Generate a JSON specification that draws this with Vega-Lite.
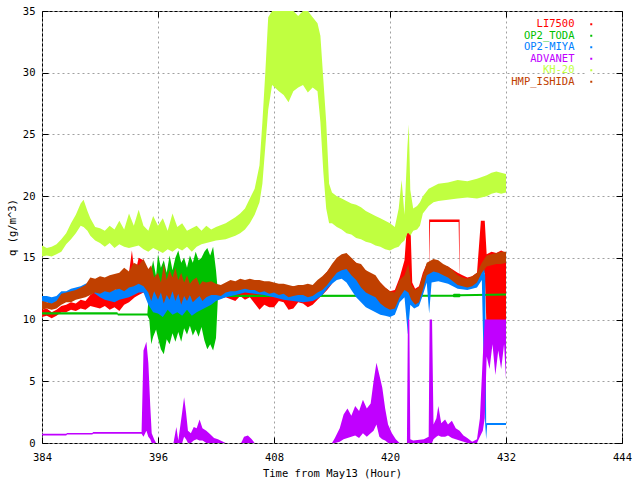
{
  "$schema": "https://vega.github.io/schema/vega-lite/v6.json",
  "autosize": "none",
  "padding": {"left": 42, "top": 11, "right": 18, "bottom": 37},
  "width": 580,
  "height": 432,
  "background": "white",
  "datasets": {
    "q": [
      {"s":"LI7500","t":384,"lo":10.2,"hi":10.8},{"s":"LI7500","t":384.5,"lo":10.3,"hi":10.9},{"s":"LI7500","t":385,"lo":10.1,"hi":10.6},{"s":"LI7500","t":385.5,"lo":10.3,"hi":10.8},
      {"s":"LI7500","t":386,"lo":10.6,"hi":11.1},{"s":"LI7500","t":386.5,"lo":10.6,"hi":11.2},{"s":"LI7500","t":387,"lo":10.8,"hi":11.4},{"s":"LI7500","t":387.5,"lo":10.7,"hi":11.3},
      {"s":"LI7500","t":388,"lo":10.9,"hi":11.6},{"s":"LI7500","t":388.5,"lo":10.8,"hi":11.5},{"s":"LI7500","t":389,"lo":11.1,"hi":12.0},{"s":"LI7500","t":389.5,"lo":11.0,"hi":12.3},
      {"s":"LI7500","t":390,"lo":10.9,"hi":12.0},{"s":"LI7500","t":390.5,"lo":11.1,"hi":12.3},{"s":"LI7500","t":391,"lo":10.8,"hi":12.2},{"s":"LI7500","t":391.5,"lo":11.0,"hi":12.2},
      {"s":"LI7500","t":392,"lo":10.7,"hi":12.1},{"s":"LI7500","t":392.5,"lo":11.2,"hi":12.6},{"s":"LI7500","t":393,"lo":11.4,"hi":13.8},{"s":"LI7500","t":393.3,"lo":11.6,"hi":15.6},
      {"s":"LI7500","t":393.6,"lo":11.8,"hi":13.6},{"s":"LI7500","t":394,"lo":12.0,"hi":15.0},{"s":"LI7500","t":394.5,"lo":12.2,"hi":14.8},{"s":"LI7500","t":395,"lo":11.8,"hi":13.5},
      {"s":"LI7500","t":395.5,"lo":10.8,"hi":13.6},{"s":"LI7500","t":396,"lo":11.0,"hi":13.2},{"s":"LI7500","t":396.5,"lo":10.6,"hi":13.0},{"s":"LI7500","t":397,"lo":11.0,"hi":13.4},
      {"s":"LI7500","t":397.5,"lo":10.7,"hi":12.8},{"s":"LI7500","t":398,"lo":11.1,"hi":13.1},{"s":"LI7500","t":398.5,"lo":10.6,"hi":12.6},{"s":"LI7500","t":399,"lo":11.0,"hi":13.0},
      {"s":"LI7500","t":399.5,"lo":10.5,"hi":12.4},{"s":"LI7500","t":400,"lo":10.9,"hi":12.8},{"s":"LI7500","t":400.5,"lo":11.0,"hi":12.5},{"s":"LI7500","t":401,"lo":11.2,"hi":12.6},
      {"s":"LI7500","t":401.5,"lo":11.4,"hi":12.6},{"s":"LI7500","t":402,"lo":11.6,"hi":12.4},{"s":"LI7500","t":403,"lo":11.8,"hi":12.6},{"s":"LI7500","t":404,"lo":11.5,"hi":12.8},
      {"s":"LI7500","t":404.5,"lo":11.9,"hi":12.9},{"s":"LI7500","t":405,"lo":11.6,"hi":12.9},{"s":"LI7500","t":405.5,"lo":11.8,"hi":13.0},{"s":"LI7500","t":406,"lo":11.3,"hi":13.0},
      {"s":"LI7500","t":406.5,"lo":10.8,"hi":12.9},{"s":"LI7500","t":407,"lo":11.2,"hi":13.0},{"s":"LI7500","t":407.5,"lo":11.0,"hi":12.8},{"s":"LI7500","t":408,"lo":11.0,"hi":12.9},
      {"s":"LI7500","t":408.5,"lo":11.5,"hi":12.8},{"s":"LI7500","t":409,"lo":11.4,"hi":12.8},{"s":"LI7500","t":409.5,"lo":10.8,"hi":12.6},{"s":"LI7500","t":410,"lo":10.9,"hi":12.7},
      {"s":"LI7500","t":410.5,"lo":11.4,"hi":12.7},{"s":"LI7500","t":411,"lo":11.3,"hi":12.8},{"s":"LI7500","t":411.5,"lo":11.0,"hi":12.7},{"s":"LI7500","t":412,"lo":11.2,"hi":12.6},
      {"s":"LI7500","t":412.5,"lo":11.6,"hi":12.9},{"s":"LI7500","t":413,"lo":12.0,"hi":13.4},{"s":"LI7500","t":413.5,"lo":12.4,"hi":13.9},{"s":"LI7500","t":414,"lo":12.9,"hi":14.4},
      {"s":"LI7500","t":414.5,"lo":13.4,"hi":14.9},{"s":"LI7500","t":415,"lo":13.6,"hi":15.2},{"s":"LI7500","t":415.5,"lo":13.5,"hi":15.3},{"s":"LI7500","t":416,"lo":12.8,"hi":14.9},
      {"s":"LI7500","t":416.5,"lo":12.3,"hi":14.6},{"s":"LI7500","t":417,"lo":12.0,"hi":14.2},{"s":"LI7500","t":417.5,"lo":11.6,"hi":14.0},{"s":"LI7500","t":418,"lo":11.3,"hi":13.6},
      {"s":"LI7500","t":418.5,"lo":11.0,"hi":13.4},{"s":"LI7500","t":419,"lo":10.8,"hi":13.0},{"s":"LI7500","t":419.5,"lo":10.6,"hi":12.6},{"s":"LI7500","t":420,"lo":10.5,"hi":12.3},
      {"s":"LI7500","t":420.5,"lo":10.8,"hi":12.4},{"s":"LI7500","t":421,"lo":11.8,"hi":13.4},{"s":"LI7500","t":421.5,"lo":12.2,"hi":14.8},{"s":"LI7500","t":421.8,"lo":12.5,"hi":18},
      {"s":"LI7500","t":422.1,"lo":12.0,"hi":18},{"s":"LI7500","t":422.3,"lo":11.8,"hi":13.0},{"s":"LI7500","t":422.6,"lo":11.1,"hi":12.5},{"s":"LI7500","t":423,"lo":11.3,"hi":12.7},
      {"s":"LI7500","t":423.4,"lo":12.2,"hi":13.8},{"s":"LI7500","t":423.8,"lo":13.4,"hi":14.5},{"s":"LI7500","t":425,"lo":13.6,"hi":14.5},{"s":"LI7500","t":426,"lo":13.4,"hi":14.3},
      {"s":"LI7500","t":427,"lo":12.8,"hi":13.8},{"s":"LI7500","t":427.5,"lo":12.5,"hi":13.6},{"s":"LI7500","t":428,"lo":12.6,"hi":13.4},{"s":"LI7500","t":428.5,"lo":12.7,"hi":13.5},
      {"s":"LI7500","t":429,"lo":12.9,"hi":13.8},{"s":"LI7500","t":429.4,"lo":13.5,"hi":18},{"s":"LI7500","t":429.8,"lo":13.8,"hi":18},{"s":"LI7500","t":430,"lo":9,"hi":15.3},
      {"s":"LI7500","t":430.5,"lo":9.2,"hi":15.5},{"s":"LI7500","t":431,"lo":9,"hi":15.4},{"s":"LI7500","t":431.5,"lo":9.1,"hi":15.6},{"s":"LI7500","t":432,"lo":9,"hi":15.4},
      {"s":"LI7500","g":"box","t":424.05,"lo":13.8,"hi":18.1},{"s":"LI7500","g":"box","t":424.15,"lo":17.9,"hi":18.1},{"s":"LI7500","g":"box","t":427.1,"lo":17.9,"hi":18.1},{"s":"LI7500","g":"box","t":427.2,"lo":13.0,"hi":18.1},

      {"s":"OP2_TODA","t":384,"lo":10.42,"hi":10.6},{"s":"OP2_TODA","t":391.8,"lo":10.42,"hi":10.6},{"s":"OP2_TODA","t":391.85,"lo":10.32,"hi":10.5},{"s":"OP2_TODA","t":394.9,"lo":10.32,"hi":10.5},
      {"s":"OP2_TODA","t":395.1,"lo":10.0,"hi":12.5},{"s":"OP2_TODA","t":395.3,"lo":8.0,"hi":14.0},{"s":"OP2_TODA","t":395.5,"lo":8.6,"hi":14.8},{"s":"OP2_TODA","t":395.8,"lo":9.2,"hi":13.5},
      {"s":"OP2_TODA","t":396.0,"lo":8.5,"hi":15.3},{"s":"OP2_TODA","t":396.3,"lo":7.6,"hi":14.2},{"s":"OP2_TODA","t":396.6,"lo":7.2,"hi":14.8},{"s":"OP2_TODA","t":396.9,"lo":8.4,"hi":13.8},
      {"s":"OP2_TODA","t":397.2,"lo":8.0,"hi":15.2},{"s":"OP2_TODA","t":397.5,"lo":8.9,"hi":14.0},{"s":"OP2_TODA","t":397.8,"lo":8.2,"hi":15.0},{"s":"OP2_TODA","t":398.1,"lo":9.0,"hi":15.6},
      {"s":"OP2_TODA","t":398.4,"lo":8.2,"hi":14.6},{"s":"OP2_TODA","t":398.7,"lo":9.3,"hi":15.0},{"s":"OP2_TODA","t":399.0,"lo":8.8,"hi":14.2},{"s":"OP2_TODA","t":399.3,"lo":9.5,"hi":15.2},
      {"s":"OP2_TODA","t":399.6,"lo":8.7,"hi":14.6},{"s":"OP2_TODA","t":399.9,"lo":9.2,"hi":15.5},{"s":"OP2_TODA","t":400.2,"lo":8.6,"hi":14.8},{"s":"OP2_TODA","t":400.5,"lo":9.4,"hi":15.0},
      {"s":"OP2_TODA","t":400.8,"lo":8.3,"hi":15.5},{"s":"OP2_TODA","t":401.1,"lo":7.6,"hi":15.8},{"s":"OP2_TODA","t":401.4,"lo":8.0,"hi":15.2},{"s":"OP2_TODA","t":401.7,"lo":7.5,"hi":15.9},
      {"s":"OP2_TODA","t":402.0,"lo":8.5,"hi":14.0},{"s":"OP2_TODA","t":402.2,"lo":11.8,"hi":12.2},{"s":"OP2_TODA","t":402.4,"lo":11.82,"hi":12.0},{"s":"OP2_TODA","t":426.5,"lo":11.85,"hi":12.02},
      {"s":"OP2_TODA","t":426.6,"lo":11.8,"hi":12.1},{"s":"OP2_TODA","t":427.2,"lo":11.8,"hi":12.1},{"s":"OP2_TODA","t":427.3,"lo":11.88,"hi":12.05},{"s":"OP2_TODA","t":432,"lo":11.95,"hi":12.12},

      {"s":"OP2-MIYA","t":384,"lo":11.3,"hi":11.9},{"s":"OP2-MIYA","t":384.5,"lo":11.4,"hi":11.9},{"s":"OP2-MIYA","t":385,"lo":11.2,"hi":11.8},{"s":"OP2-MIYA","t":385.5,"lo":11.3,"hi":11.9},
      {"s":"OP2-MIYA","t":386,"lo":11.7,"hi":12.3},{"s":"OP2-MIYA","t":386.5,"lo":11.8,"hi":12.3},{"s":"OP2-MIYA","t":387,"lo":11.9,"hi":12.5},{"s":"OP2-MIYA","t":387.5,"lo":11.9,"hi":12.6},
      {"s":"OP2-MIYA","t":388,"lo":12.1,"hi":12.7},{"s":"OP2-MIYA","t":388.5,"lo":12.1,"hi":12.9},{"s":"OP2-MIYA","t":389,"lo":12.3,"hi":13.0},{"s":"OP2-MIYA","t":389.5,"lo":12.1,"hi":13.0},
      {"s":"OP2-MIYA","t":390,"lo":11.8,"hi":12.8},{"s":"OP2-MIYA","t":390.5,"lo":11.6,"hi":12.6},{"s":"OP2-MIYA","t":391,"lo":11.5,"hi":12.5},{"s":"OP2-MIYA","t":391.5,"lo":11.4,"hi":12.4},
      {"s":"OP2-MIYA","t":392,"lo":11.6,"hi":12.6},{"s":"OP2-MIYA","t":392.5,"lo":11.7,"hi":12.8},{"s":"OP2-MIYA","t":393,"lo":11.8,"hi":13.0},{"s":"OP2-MIYA","t":393.5,"lo":12.0,"hi":13.3},
      {"s":"OP2-MIYA","t":394,"lo":12.2,"hi":13.6},{"s":"OP2-MIYA","t":394.5,"lo":12.2,"hi":13.4},{"s":"OP2-MIYA","t":395,"lo":11.2,"hi":12.8},{"s":"OP2-MIYA","t":395.5,"lo":10.6,"hi":12.6},
      {"s":"OP2-MIYA","t":396,"lo":10.5,"hi":13.2},{"s":"OP2-MIYA","t":396.5,"lo":10.2,"hi":12.5},{"s":"OP2-MIYA","t":397,"lo":10.8,"hi":12.8},{"s":"OP2-MIYA","t":397.5,"lo":10.4,"hi":12.3},
      {"s":"OP2-MIYA","t":398,"lo":10.6,"hi":12.6},{"s":"OP2-MIYA","t":398.5,"lo":10.3,"hi":12.0},{"s":"OP2-MIYA","t":399,"lo":10.8,"hi":12.2},{"s":"OP2-MIYA","t":399.5,"lo":10.3,"hi":11.8},
      {"s":"OP2-MIYA","t":400,"lo":10.6,"hi":12.3},{"s":"OP2-MIYA","t":400.5,"lo":10.8,"hi":12.0},{"s":"OP2-MIYA","t":401,"lo":11.0,"hi":12.3},{"s":"OP2-MIYA","t":401.5,"lo":11.2,"hi":12.5},
      {"s":"OP2-MIYA","t":402,"lo":11.5,"hi":12.5},{"s":"OP2-MIYA","t":403,"lo":11.8,"hi":12.8},{"s":"OP2-MIYA","t":404,"lo":12.0,"hi":13.0},{"s":"OP2-MIYA","t":405,"lo":12.2,"hi":13.1},
      {"s":"OP2-MIYA","t":406,"lo":12.1,"hi":13.0},{"s":"OP2-MIYA","t":407,"lo":12.0,"hi":13.0},{"s":"OP2-MIYA","t":408,"lo":11.8,"hi":12.9},{"s":"OP2-MIYA","t":409,"lo":11.6,"hi":12.6},
      {"s":"OP2-MIYA","t":410,"lo":11.5,"hi":12.6},{"s":"OP2-MIYA","t":411,"lo":11.4,"hi":12.5},{"s":"OP2-MIYA","t":412,"lo":11.5,"hi":12.6},{"s":"OP2-MIYA","t":412.5,"lo":11.7,"hi":13.0},
      {"s":"OP2-MIYA","t":413,"lo":12.0,"hi":13.2},{"s":"OP2-MIYA","t":413.5,"lo":12.5,"hi":13.6},{"s":"OP2-MIYA","t":414,"lo":12.9,"hi":13.9},{"s":"OP2-MIYA","t":414.5,"lo":13.2,"hi":14.2},
      {"s":"OP2-MIYA","t":415,"lo":13.3,"hi":14.3},{"s":"OP2-MIYA","t":415.5,"lo":13.0,"hi":14.2},{"s":"OP2-MIYA","t":416,"lo":12.4,"hi":13.8},{"s":"OP2-MIYA","t":416.5,"lo":11.8,"hi":13.4},
      {"s":"OP2-MIYA","t":417,"lo":11.4,"hi":13.0},{"s":"OP2-MIYA","t":417.5,"lo":11.0,"hi":12.6},{"s":"OP2-MIYA","t":418,"lo":10.8,"hi":12.4},{"s":"OP2-MIYA","t":418.5,"lo":10.6,"hi":12.2},
      {"s":"OP2-MIYA","t":419,"lo":10.4,"hi":11.9},{"s":"OP2-MIYA","t":419.5,"lo":10.3,"hi":11.6},{"s":"OP2-MIYA","t":420,"lo":10.2,"hi":11.5},{"s":"OP2-MIYA","t":420.5,"lo":10.4,"hi":11.8},
      {"s":"OP2-MIYA","t":421,"lo":11.4,"hi":12.8},{"s":"OP2-MIYA","t":421.5,"lo":11.8,"hi":13.2},{"s":"OP2-MIYA","t":421.85,"lo":8.8,"hi":12.8},{"s":"OP2-MIYA","t":422.1,"lo":11.2,"hi":12.4},
      {"s":"OP2-MIYA","t":422.5,"lo":10.9,"hi":12.0},{"s":"OP2-MIYA","t":423,"lo":11.1,"hi":12.2},{"s":"OP2-MIYA","t":423.4,"lo":12.0,"hi":13.2},{"s":"OP2-MIYA","t":423.8,"lo":13.0,"hi":13.9},
      {"s":"OP2-MIYA","t":424.05,"lo":10.5,"hi":13.9},{"s":"OP2-MIYA","t":424.3,"lo":13.0,"hi":14.0},{"s":"OP2-MIYA","t":425,"lo":13.1,"hi":14.1},{"s":"OP2-MIYA","t":426,"lo":12.9,"hi":13.9},
      {"s":"OP2-MIYA","t":427,"lo":12.5,"hi":13.4},{"s":"OP2-MIYA","t":428,"lo":12.4,"hi":13.2},{"s":"OP2-MIYA","t":429,"lo":12.6,"hi":13.5},{"s":"OP2-MIYA","t":429.5,"lo":13.2,"hi":14.2},
      {"s":"OP2-MIYA","t":429.7,"lo":6,"hi":14.3},{"s":"OP2-MIYA","t":429.85,"lo":1.5,"hi":13.5},{"s":"OP2-MIYA","t":429.95,"lo":0.3,"hi":1.6},{"s":"OP2-MIYA","t":430.05,"lo":1.45,"hi":1.62},
      {"s":"OP2-MIYA","t":432,"lo":1.45,"hi":1.62},

      {"s":"ADVANET","t":384,"lo":0.6,"hi":0.75},{"s":"ADVANET","t":386.5,"lo":0.6,"hi":0.75},{"s":"ADVANET","t":386.6,"lo":0.68,"hi":0.82},{"s":"ADVANET","t":389.2,"lo":0.68,"hi":0.82},
      {"s":"ADVANET","t":389.3,"lo":0.75,"hi":0.9},{"s":"ADVANET","t":394.3,"lo":0.75,"hi":0.9},{"s":"ADVANET","t":394.5,"lo":0.5,"hi":7.5},{"s":"ADVANET","t":394.8,"lo":1,"hi":8.2},
      {"s":"ADVANET","t":395,"lo":0.5,"hi":6.5},{"s":"ADVANET","t":395.2,"lo":0.3,"hi":3},{"s":"ADVANET","t":395.35,"lo":0,"hi":0.8},{"s":"ADVANET","t":395.6,"lo":0,"hi":0.3},
      {"s":"ADVANET","t":395.8,"lo":0,"hi":0},{"s":"ADVANET","t":397.6,"lo":0,"hi":0},{"s":"ADVANET","t":397.9,"lo":0,"hi":1.3},{"s":"ADVANET","t":398.1,"lo":0,"hi":0.2},
      {"s":"ADVANET","t":398.5,"lo":0,"hi":2.5},{"s":"ADVANET","t":398.7,"lo":0.5,"hi":3.7},{"s":"ADVANET","t":398.9,"lo":0.3,"hi":2.5},{"s":"ADVANET","t":399.1,"lo":0,"hi":1.0},
      {"s":"ADVANET","t":399.4,"lo":0,"hi":0.8},{"s":"ADVANET","t":399.7,"lo":0.2,"hi":1.3},{"s":"ADVANET","t":400,"lo":0.3,"hi":1.2},{"s":"ADVANET","t":400.3,"lo":0.2,"hi":1.9},
      {"s":"ADVANET","t":400.6,"lo":0.2,"hi":1.2},{"s":"ADVANET","t":401,"lo":0,"hi":1.0},{"s":"ADVANET","t":401.4,"lo":0,"hi":0.7},{"s":"ADVANET","t":401.8,"lo":0,"hi":0.4},
      {"s":"ADVANET","t":402.2,"lo":0,"hi":0.3},{"s":"ADVANET","t":403,"lo":0,"hi":0},{"s":"ADVANET","t":404.6,"lo":0,"hi":0},{"s":"ADVANET","t":404.9,"lo":0,"hi":0.5},
      {"s":"ADVANET","t":405.3,"lo":0,"hi":0.6},{"s":"ADVANET","t":405.7,"lo":0,"hi":0.3},{"s":"ADVANET","t":406,"lo":0,"hi":0},{"s":"ADVANET","t":414,"lo":0,"hi":0},
      {"s":"ADVANET","t":414.3,"lo":0,"hi":0.4},{"s":"ADVANET","t":414.8,"lo":0.1,"hi":1.2},{"s":"ADVANET","t":415.2,"lo":0.3,"hi":2.3},{"s":"ADVANET","t":415.6,"lo":0.4,"hi":2.8},
      {"s":"ADVANET","t":416,"lo":0.5,"hi":2.2},{"s":"ADVANET","t":416.4,"lo":0.6,"hi":3.0},{"s":"ADVANET","t":416.8,"lo":0.4,"hi":2.6},{"s":"ADVANET","t":417.2,"lo":0.8,"hi":3.5},
      {"s":"ADVANET","t":417.6,"lo":0.5,"hi":2.8},{"s":"ADVANET","t":418,"lo":0.8,"hi":3.2},{"s":"ADVANET","t":418.3,"lo":1.0,"hi":5.0},{"s":"ADVANET","t":418.6,"lo":1.5,"hi":6.5},
      {"s":"ADVANET","t":418.9,"lo":0.5,"hi":5.5},{"s":"ADVANET","t":419.2,"lo":0.3,"hi":4.5},{"s":"ADVANET","t":419.5,"lo":0.2,"hi":2.8},{"s":"ADVANET","t":419.8,"lo":0,"hi":1.5},
      {"s":"ADVANET","t":420.2,"lo":0,"hi":0.8},{"s":"ADVANET","t":420.6,"lo":0,"hi":0.3},{"s":"ADVANET","t":421,"lo":0,"hi":0},{"s":"ADVANET","t":421.75,"lo":0,"hi":0},
      {"s":"ADVANET","t":421.85,"lo":0,"hi":10},{"s":"ADVANET","t":422.0,"lo":0,"hi":10},{"s":"ADVANET","t":422.1,"lo":0,"hi":0.3},{"s":"ADVANET","t":422.4,"lo":0,"hi":0.2},
      {"s":"ADVANET","t":423.5,"lo":0,"hi":0.3},{"s":"ADVANET","t":424.0,"lo":0,"hi":0.5},{"s":"ADVANET","t":424.1,"lo":0,"hi":10},{"s":"ADVANET","t":424.35,"lo":0,"hi":10},
      {"s":"ADVANET","t":424.5,"lo":0.3,"hi":1.5},{"s":"ADVANET","t":424.8,"lo":0.5,"hi":2.0},{"s":"ADVANET","t":425,"lo":0.6,"hi":3.0},{"s":"ADVANET","t":425.3,"lo":0.5,"hi":1.6},
      {"s":"ADVANET","t":425.7,"lo":0.5,"hi":1.9},{"s":"ADVANET","t":426,"lo":0.6,"hi":1.5},{"s":"ADVANET","t":426.4,"lo":0.4,"hi":1.8},{"s":"ADVANET","t":426.8,"lo":0.3,"hi":1.2},
      {"s":"ADVANET","t":427.2,"lo":0.2,"hi":1.0},{"s":"ADVANET","t":427.6,"lo":0.1,"hi":0.6},{"s":"ADVANET","t":428,"lo":0,"hi":0.4},{"s":"ADVANET","t":428.5,"lo":0,"hi":0.1},
      {"s":"ADVANET","t":429,"lo":0,"hi":0.3},{"s":"ADVANET","t":429.3,"lo":0.5,"hi":2},{"s":"ADVANET","t":429.6,"lo":1,"hi":7},{"s":"ADVANET","t":429.8,"lo":2,"hi":10},
      {"s":"ADVANET","t":430,"lo":7,"hi":10},{"s":"ADVANET","t":430.3,"lo":6,"hi":10},{"s":"ADVANET","t":430.6,"lo":8,"hi":10},{"s":"ADVANET","t":430.9,"lo":5.5,"hi":10},
      {"s":"ADVANET","t":431.2,"lo":7.5,"hi":10},{"s":"ADVANET","t":431.5,"lo":6,"hi":10},{"s":"ADVANET","t":431.8,"lo":8,"hi":10},{"s":"ADVANET","t":432,"lo":5.2,"hi":10},

      {"s":"KH-20","t":384,"lo":15.1,"hi":16.0},{"s":"KH-20","t":384.5,"lo":15.2,"hi":15.8},{"s":"KH-20","t":385,"lo":15.1,"hi":15.9},{"s":"KH-20","t":385.5,"lo":15.3,"hi":16.1},
      {"s":"KH-20","t":386,"lo":15.5,"hi":16.5},{"s":"KH-20","t":386.5,"lo":16.1,"hi":17.0},{"s":"KH-20","t":387,"lo":16.5,"hi":17.8},{"s":"KH-20","t":387.5,"lo":17.0,"hi":18.5},
      {"s":"KH-20","t":388,"lo":17.6,"hi":19.4},{"s":"KH-20","t":388.3,"lo":17.5,"hi":19.7},{"s":"KH-20","t":388.7,"lo":17.2,"hi":18.8},{"s":"KH-20","t":389,"lo":16.8,"hi":18.2},
      {"s":"KH-20","t":389.5,"lo":16.4,"hi":17.5},{"s":"KH-20","t":390,"lo":16.2,"hi":17.4},{"s":"KH-20","t":390.5,"lo":15.9,"hi":17.2},{"s":"KH-20","t":391,"lo":16.2,"hi":17.6},
      {"s":"KH-20","t":391.5,"lo":15.8,"hi":17.3},{"s":"KH-20","t":392,"lo":16.1,"hi":18.0},{"s":"KH-20","t":392.5,"lo":15.9,"hi":17.3},{"s":"KH-20","t":393,"lo":15.8,"hi":18.6},
      {"s":"KH-20","t":393.5,"lo":15.9,"hi":17.6},{"s":"KH-20","t":394,"lo":16.0,"hi":18.9},{"s":"KH-20","t":394.5,"lo":15.7,"hi":17.6},{"s":"KH-20","t":395,"lo":15.5,"hi":17.2},
      {"s":"KH-20","t":395.5,"lo":15.8,"hi":18.4},{"s":"KH-20","t":396,"lo":15.6,"hi":17.6},{"s":"KH-20","t":396.5,"lo":15.4,"hi":18.2},{"s":"KH-20","t":397,"lo":15.7,"hi":17.2},
      {"s":"KH-20","t":397.5,"lo":15.5,"hi":18.6},{"s":"KH-20","t":398,"lo":15.8,"hi":17.5},{"s":"KH-20","t":398.5,"lo":15.6,"hi":17.8},{"s":"KH-20","t":399,"lo":15.9,"hi":17.2},
      {"s":"KH-20","t":399.5,"lo":15.5,"hi":17.4},{"s":"KH-20","t":400,"lo":15.9,"hi":17.6},{"s":"KH-20","t":400.5,"lo":16.1,"hi":17.2},{"s":"KH-20","t":401,"lo":16.2,"hi":17.6},
      {"s":"KH-20","t":401.5,"lo":16.3,"hi":17.3},{"s":"KH-20","t":402,"lo":16.4,"hi":17.5},{"s":"KH-20","t":403,"lo":16.5,"hi":17.8},{"s":"KH-20","t":404,"lo":16.8,"hi":18.3},
      {"s":"KH-20","t":404.5,"lo":17.0,"hi":18.6},{"s":"KH-20","t":405,"lo":17.3,"hi":19.0},{"s":"KH-20","t":405.5,"lo":17.8,"hi":19.8},{"s":"KH-20","t":406,"lo":18.5,"hi":20.6},
      {"s":"KH-20","t":406.5,"lo":19.5,"hi":22.5},{"s":"KH-20","t":406.8,"lo":21.0,"hi":26.0},{"s":"KH-20","t":407.1,"lo":24.0,"hi":30.0},{"s":"KH-20","t":407.4,"lo":27.0,"hi":34.5},
      {"s":"KH-20","t":407.8,"lo":29.0,"hi":35},{"s":"KH-20","t":408.5,"lo":28.5,"hi":35},{"s":"KH-20","t":409,"lo":28.2,"hi":35},{"s":"KH-20","t":409.5,"lo":27.6,"hi":35},
      {"s":"KH-20","t":410,"lo":28.5,"hi":35},{"s":"KH-20","t":410.5,"lo":28.8,"hi":34.6},{"s":"KH-20","t":411,"lo":29.0,"hi":35},{"s":"KH-20","t":411.5,"lo":28.4,"hi":35},
      {"s":"KH-20","t":412,"lo":28.8,"hi":34.5},{"s":"KH-20","t":412.5,"lo":28.5,"hi":34},{"s":"KH-20","t":412.8,"lo":26,"hi":33},{"s":"KH-20","t":413.1,"lo":22,"hi":29.5},
      {"s":"KH-20","t":413.4,"lo":19,"hi":26},{"s":"KH-20","t":413.7,"lo":17.8,"hi":21},{"s":"KH-20","t":414,"lo":17.8,"hi":20.3},{"s":"KH-20","t":414.5,"lo":17.5,"hi":20.0},
      {"s":"KH-20","t":415,"lo":17.3,"hi":19.8},{"s":"KH-20","t":415.5,"lo":17.0,"hi":19.6},{"s":"KH-20","t":416,"lo":16.9,"hi":19.4},{"s":"KH-20","t":416.5,"lo":16.6,"hi":19.3},
      {"s":"KH-20","t":417,"lo":16.5,"hi":19.1},{"s":"KH-20","t":417.5,"lo":16.3,"hi":18.8},{"s":"KH-20","t":418,"lo":16.2,"hi":18.6},{"s":"KH-20","t":418.5,"lo":16.0,"hi":18.4},
      {"s":"KH-20","t":419,"lo":15.9,"hi":18.2},{"s":"KH-20","t":419.5,"lo":15.7,"hi":18.0},{"s":"KH-20","t":420,"lo":15.6,"hi":17.8},{"s":"KH-20","t":420.5,"lo":15.8,"hi":17.5},
      {"s":"KH-20","t":420.9,"lo":15.9,"hi":19},{"s":"KH-20","t":421.2,"lo":16.2,"hi":21.3},{"s":"KH-20","t":421.5,"lo":16.4,"hi":18.5},{"s":"KH-20","t":421.8,"lo":17,"hi":24},
      {"s":"KH-20","t":421.95,"lo":17,"hi":25.8},{"s":"KH-20","t":422.1,"lo":16.8,"hi":20.5},{"s":"KH-20","t":422.4,"lo":17.2,"hi":19.0},{"s":"KH-20","t":422.8,"lo":17.3,"hi":19.2},
      {"s":"KH-20","t":423.1,"lo":17.6,"hi":19.5},{"s":"KH-20","t":423.4,"lo":18.6,"hi":20.0},{"s":"KH-20","t":424,"lo":19.2,"hi":20.6},{"s":"KH-20","t":424.5,"lo":19.5,"hi":20.8},
      {"s":"KH-20","t":425,"lo":19.6,"hi":21.0},{"s":"KH-20","t":426,"lo":19.7,"hi":21.1},{"s":"KH-20","t":427,"lo":19.8,"hi":21.3},{"s":"KH-20","t":428,"lo":19.9,"hi":21.2},
      {"s":"KH-20","t":429,"lo":19.8,"hi":21.4},{"s":"KH-20","t":430,"lo":20.0,"hi":21.7},{"s":"KH-20","t":430.5,"lo":20.2,"hi":21.9},{"s":"KH-20","t":431,"lo":20.3,"hi":22.0},
      {"s":"KH-20","t":431.5,"lo":20.2,"hi":21.9},{"s":"KH-20","t":432,"lo":20.3,"hi":21.8},

      {"s":"HMP_ISHIDA","t":384,"lo":10.8,"hi":11.5},{"s":"HMP_ISHIDA","t":384.5,"lo":10.9,"hi":11.4},{"s":"HMP_ISHIDA","t":385,"lo":10.8,"hi":11.3},{"s":"HMP_ISHIDA","t":385.5,"lo":10.9,"hi":11.5},
      {"s":"HMP_ISHIDA","t":386,"lo":11.2,"hi":12.1},{"s":"HMP_ISHIDA","t":386.5,"lo":11.4,"hi":12.2},{"s":"HMP_ISHIDA","t":387,"lo":11.4,"hi":12.3},{"s":"HMP_ISHIDA","t":387.5,"lo":11.6,"hi":12.4},
      {"s":"HMP_ISHIDA","t":388,"lo":11.7,"hi":12.6},{"s":"HMP_ISHIDA","t":388.5,"lo":11.8,"hi":12.8},{"s":"HMP_ISHIDA","t":389,"lo":12.0,"hi":13.4},{"s":"HMP_ISHIDA","t":389.5,"lo":12.2,"hi":13.3},
      {"s":"HMP_ISHIDA","t":390,"lo":12.1,"hi":13.5},{"s":"HMP_ISHIDA","t":390.5,"lo":12.3,"hi":13.4},{"s":"HMP_ISHIDA","t":391,"lo":12.2,"hi":13.6},{"s":"HMP_ISHIDA","t":391.5,"lo":12.4,"hi":13.7},
      {"s":"HMP_ISHIDA","t":392,"lo":12.5,"hi":13.8},{"s":"HMP_ISHIDA","t":392.5,"lo":12.3,"hi":14.2},{"s":"HMP_ISHIDA","t":393,"lo":12.6,"hi":13.9},{"s":"HMP_ISHIDA","t":393.5,"lo":12.7,"hi":14.6},
      {"s":"HMP_ISHIDA","t":394,"lo":12.9,"hi":14.4},{"s":"HMP_ISHIDA","t":394.5,"lo":12.7,"hi":14.9},{"s":"HMP_ISHIDA","t":395,"lo":12.2,"hi":14.1},{"s":"HMP_ISHIDA","t":395.3,"lo":11.5,"hi":14.4},
      {"s":"HMP_ISHIDA","t":395.6,"lo":12.3,"hi":13.4},{"s":"HMP_ISHIDA","t":396,"lo":11.6,"hi":13.8},{"s":"HMP_ISHIDA","t":396.3,"lo":12.2,"hi":13.0},{"s":"HMP_ISHIDA","t":396.6,"lo":11.3,"hi":14.5},
      {"s":"HMP_ISHIDA","t":396.9,"lo":12.0,"hi":13.2},{"s":"HMP_ISHIDA","t":397.2,"lo":11.6,"hi":14.0},{"s":"HMP_ISHIDA","t":397.5,"lo":12.3,"hi":13.4},{"s":"HMP_ISHIDA","t":397.8,"lo":11.5,"hi":14.2},
      {"s":"HMP_ISHIDA","t":398.1,"lo":12.1,"hi":13.2},{"s":"HMP_ISHIDA","t":398.4,"lo":11.2,"hi":13.8},{"s":"HMP_ISHIDA","t":398.7,"lo":11.9,"hi":13.0},{"s":"HMP_ISHIDA","t":399,"lo":11.5,"hi":13.6},
      {"s":"HMP_ISHIDA","t":399.3,"lo":12.0,"hi":12.9},{"s":"HMP_ISHIDA","t":399.6,"lo":11.4,"hi":13.2},{"s":"HMP_ISHIDA","t":400,"lo":11.7,"hi":13.4},{"s":"HMP_ISHIDA","t":400.3,"lo":11.9,"hi":12.8},
      {"s":"HMP_ISHIDA","t":400.6,"lo":11.5,"hi":13.1},{"s":"HMP_ISHIDA","t":401,"lo":11.8,"hi":13.0},{"s":"HMP_ISHIDA","t":401.5,"lo":12.0,"hi":13.1},{"s":"HMP_ISHIDA","t":402,"lo":12.0,"hi":12.9},
      {"s":"HMP_ISHIDA","t":402.5,"lo":11.9,"hi":12.8},{"s":"HMP_ISHIDA","t":403,"lo":12.2,"hi":13.0},{"s":"HMP_ISHIDA","t":403.5,"lo":12.3,"hi":13.2},{"s":"HMP_ISHIDA","t":404,"lo":12.3,"hi":13.1},
      {"s":"HMP_ISHIDA","t":404.5,"lo":12.4,"hi":13.3},{"s":"HMP_ISHIDA","t":405,"lo":12.5,"hi":13.2},{"s":"HMP_ISHIDA","t":405.5,"lo":12.4,"hi":13.3},{"s":"HMP_ISHIDA","t":406,"lo":12.4,"hi":13.2},
      {"s":"HMP_ISHIDA","t":406.5,"lo":12.2,"hi":13.2},{"s":"HMP_ISHIDA","t":407,"lo":12.3,"hi":13.1},{"s":"HMP_ISHIDA","t":407.5,"lo":12.1,"hi":13.1},{"s":"HMP_ISHIDA","t":408,"lo":12.2,"hi":13.0},
      {"s":"HMP_ISHIDA","t":408.5,"lo":12.0,"hi":12.9},{"s":"HMP_ISHIDA","t":409,"lo":12.1,"hi":12.9},{"s":"HMP_ISHIDA","t":409.5,"lo":11.8,"hi":12.8},{"s":"HMP_ISHIDA","t":410,"lo":11.9,"hi":12.7},
      {"s":"HMP_ISHIDA","t":410.5,"lo":12.0,"hi":12.8},{"s":"HMP_ISHIDA","t":411,"lo":12.0,"hi":12.8},{"s":"HMP_ISHIDA","t":411.5,"lo":11.8,"hi":12.9},{"s":"HMP_ISHIDA","t":412,"lo":11.9,"hi":12.8},
      {"s":"HMP_ISHIDA","t":412.5,"lo":12.2,"hi":13.2},{"s":"HMP_ISHIDA","t":413,"lo":12.4,"hi":13.5},{"s":"HMP_ISHIDA","t":413.5,"lo":12.8,"hi":13.9},{"s":"HMP_ISHIDA","t":414,"lo":13.3,"hi":14.5},
      {"s":"HMP_ISHIDA","t":414.5,"lo":13.8,"hi":15.0},{"s":"HMP_ISHIDA","t":415,"lo":14.0,"hi":15.3},{"s":"HMP_ISHIDA","t":415.5,"lo":14.1,"hi":15.4},{"s":"HMP_ISHIDA","t":416,"lo":13.6,"hi":15.0},
      {"s":"HMP_ISHIDA","t":416.5,"lo":13.2,"hi":14.6},{"s":"HMP_ISHIDA","t":417,"lo":12.6,"hi":14.5},{"s":"HMP_ISHIDA","t":417.5,"lo":12.2,"hi":14.0},{"s":"HMP_ISHIDA","t":418,"lo":12.0,"hi":13.8},
      {"s":"HMP_ISHIDA","t":418.5,"lo":11.8,"hi":13.6},{"s":"HMP_ISHIDA","t":419,"lo":11.3,"hi":13.0},{"s":"HMP_ISHIDA","t":419.5,"lo":11.0,"hi":12.6},{"s":"HMP_ISHIDA","t":420,"lo":10.8,"hi":12.3},
      {"s":"HMP_ISHIDA","t":420.5,"lo":10.9,"hi":12.2},{"s":"HMP_ISHIDA","t":421,"lo":11.8,"hi":13.2},{"s":"HMP_ISHIDA","t":421.5,"lo":12.4,"hi":13.6},{"s":"HMP_ISHIDA","t":421.9,"lo":12.2,"hi":14.5},
      {"s":"HMP_ISHIDA","t":422.2,"lo":11.6,"hi":12.8},{"s":"HMP_ISHIDA","t":422.6,"lo":11.2,"hi":12.4},{"s":"HMP_ISHIDA","t":423,"lo":11.4,"hi":12.6},{"s":"HMP_ISHIDA","t":423.4,"lo":12.4,"hi":13.6},
      {"s":"HMP_ISHIDA","t":423.8,"lo":13.6,"hi":14.6},{"s":"HMP_ISHIDA","t":424.5,"lo":13.9,"hi":14.9},{"s":"HMP_ISHIDA","t":425,"lo":13.8,"hi":14.8},{"s":"HMP_ISHIDA","t":425.5,"lo":13.6,"hi":14.5},
      {"s":"HMP_ISHIDA","t":426,"lo":13.4,"hi":14.3},{"s":"HMP_ISHIDA","t":426.5,"lo":13.1,"hi":14.0},{"s":"HMP_ISHIDA","t":427,"lo":12.8,"hi":13.6},{"s":"HMP_ISHIDA","t":427.5,"lo":12.7,"hi":13.4},
      {"s":"HMP_ISHIDA","t":428,"lo":12.6,"hi":13.3},{"s":"HMP_ISHIDA","t":428.5,"lo":12.7,"hi":13.5},{"s":"HMP_ISHIDA","t":429,"lo":13.0,"hi":13.8},{"s":"HMP_ISHIDA","t":429.5,"lo":13.8,"hi":14.6},
      {"s":"HMP_ISHIDA","t":430,"lo":14.3,"hi":15.2},{"s":"HMP_ISHIDA","t":430.5,"lo":14.4,"hi":15.3},{"s":"HMP_ISHIDA","t":431,"lo":14.5,"hi":15.4},{"s":"HMP_ISHIDA","t":431.5,"lo":14.5,"hi":15.5},
      {"s":"HMP_ISHIDA","t":432,"lo":14.6,"hi":15.5}
    ]
  },
  "data": {"name": "q"},
  "layer": [
    {
      "encoding": {
        "x": {
          "field": "t", "type": "quantitative",
          "scale": {"domain": [384, 444], "nice": false, "zero": false},
          "axis": {"values": [384, 396, 408, 420, 432, 444], "title": "Time from May13 (Hour)", "labelPadding": 15, "titlePadding": 6}
        },
        "y": {
          "field": "lo", "type": "quantitative",
          "scale": {"domain": [0, 35], "nice": false, "zero": false},
          "axis": {"values": [0, 5, 10, 15, 20, 25, 30, 35], "title": "q (g/m^3)", "labelPadding": 13, "titlePadding": 5}
        },
        "y2": {"field": "hi"},
        "color": {
          "field": "s", "type": "nominal",
          "scale": {
            "domain": ["LI7500", "OP2_TODA", "OP2-MIYA", "ADVANET", "KH-20", "HMP_ISHIDA"],
            "range": ["#ff0000", "#00c000", "#0080ff", "#c000ff", "#c0ff40", "#c04000"]
          },
          "legend": {
            "orient": "none", "legendX": 544, "legendY": 8, "title": null,
            "symbolType": "square", "symbolSize": 4, "symbolStrokeWidth": 0,
            "labelAlign": "right", "labelOffset": -22, "rowPadding": 0.5, "padding": 0,
            "fillColor": "white",
            "labelFont": "DejaVu Sans Mono", "labelFontSize": 10.5,
            "labelColor": {"expr": "datum.value == 'LI7500' ? '#ff0000' : datum.value == 'OP2_TODA' ? '#00c000' : datum.value == 'OP2-MIYA' ? '#0080ff' : datum.value == 'ADVANET' ? '#c000ff' : datum.value == 'KH-20' ? '#c0ff40' : '#c04000'"}
          }
        },
        "detail": {"field": "g"}
      },
      "layer": [
        {"transform": [{"filter": "datum.s == 'LI7500'"}], "mark": {"type": "area", "opacity": 1}},
        {"transform": [{"filter": "datum.s == 'OP2_TODA'"}], "mark": {"type": "area", "opacity": 1}},
        {"transform": [{"filter": "datum.s == 'OP2-MIYA'"}], "mark": {"type": "area", "opacity": 1}},
        {"transform": [{"filter": "datum.s == 'ADVANET'"}], "mark": {"type": "area", "opacity": 1}},
        {"transform": [{"filter": "datum.s == 'KH-20'"}], "mark": {"type": "area", "opacity": 1}},
        {"transform": [{"filter": "datum.s == 'HMP_ISHIDA'"}], "mark": {"type": "area", "opacity": 1}}
      ]
    },
    {
      "transform": [{"filter": "datum.t < 0"}],
      "mark": {"type": "point", "opacity": 0},
      "encoding": {
        "x": {
          "field": "t", "type": "quantitative",
          "scale": {"domain": [384, 444], "nice": false, "zero": false},
          "axis": {"orient": "top", "values": [384, 396, 408, 420, 432, 444], "labels": false, "grid": false, "title": null}
        },
        "y": {
          "field": "lo", "type": "quantitative",
          "scale": {"domain": [0, 35], "nice": false, "zero": false},
          "axis": {"orient": "right", "values": [0, 5, 10, 15, 20, 25, 30, 35], "labels": false, "grid": false, "title": null}
        }
      }
    }
  ],
  "resolve": {"axis": {"x": "independent", "y": "independent"}},
  "config": {
    "view": {"stroke": "black", "strokeWidth": 1},
    "axis": {
      "labelFont": "DejaVu Sans Mono", "labelFontSize": 10.5, "labelColor": "black", "labelFlush": false,
      "titleFont": "DejaVu Sans Mono", "titleFontSize": 10.5, "titleFontWeight": "normal", "titleColor": "black",
      "tickColor": "black", "tickSize": -6, "tickWidth": 1, "domain": false,
      "gridColor": "#a0a0a0", "gridDash": [2, 3], "gridWidth": 1, "gridOpacity": 1
    }
  }
}
